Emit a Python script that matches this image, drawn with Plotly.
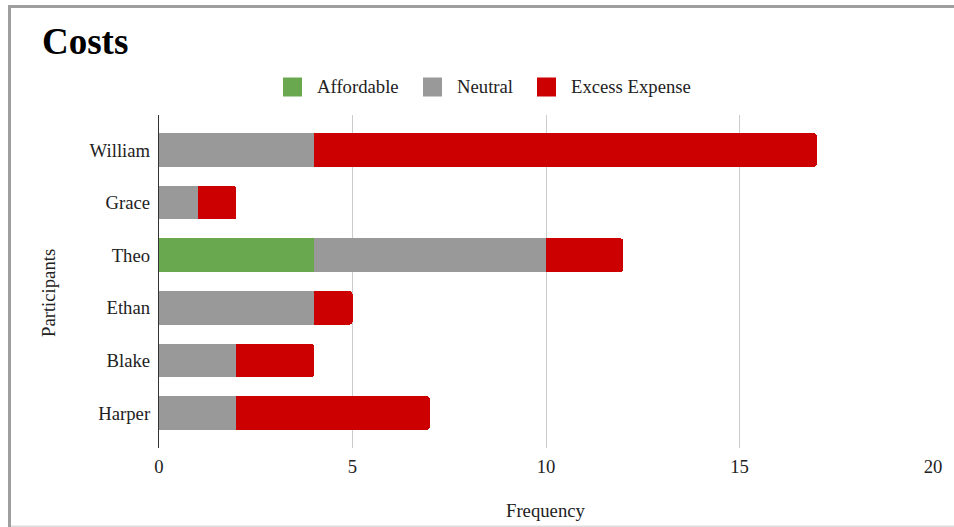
import plotly.graph_objects as go

participants = ["William", "Grace", "Theo", "Ethan", "Blake", "Harper"]
affordable = [0, 0, 4, 0, 0, 0]
neutral = [4, 1, 6, 4, 2, 2]
excess = [13, 1, 2, 1, 2, 5]
series_names = ["Affordable", "Neutral", "Excess Expense"]
series_colors = ["#6aa84f", "#999999", "#cc0000"]
x_ticks = [0, 5, 10, 15, 20]

W, H = 954, 527
L, R, T, B = 159, 933, 115, 448
FONT = "Liberation Serif, Times New Roman, serif"

def px(xp):
    return (xp - L) / (R - L)

def py(yp):
    return (B - yp) / (B - T)

# order bottom -> top
cats = participants[::-1]
fig = go.Figure()
for name, vals, col in zip(series_names, [affordable, neutral, excess], series_colors):
    fig.add_trace(go.Bar(
        y=cats, x=vals[::-1], name=name, orientation="h",
        marker=dict(color=col, line=dict(width=0)),
    ))

annotations = [
    dict(text="<b>Costs</b>", xref="paper", yref="paper", x=px(40), y=py(42),
         xanchor="left", yanchor="middle", showarrow=False,
         font=dict(family=FONT, size=37, color="#000000")),
    dict(text="Frequency", xref="paper", yref="paper", x=px(546), y=py(510),
         xanchor="center", yanchor="middle", showarrow=False,
         font=dict(family=FONT, size=18.7, color="#222222")),
    dict(text="Participants", xref="paper", yref="paper", x=px(48), y=py(293),
         xanchor="center", yanchor="middle", showarrow=False, textangle=-90,
         font=dict(family=FONT, size=18.7, color="#222222")),
]
shapes = [
    dict(type="rect", xref="paper", yref="paper", x0=px(8), x1=px(960), y0=py(5), y1=py(8),
         fillcolor="#9e9e9e", line=dict(width=0), layer="above"),
    dict(type="rect", xref="paper", yref="paper", x0=px(8), x1=px(11), y0=py(5), y1=py(530),
         fillcolor="#9e9e9e", line=dict(width=0), layer="above"),
    dict(type="rect", xref="paper", yref="paper", x0=px(11), x1=px(960), y0=py(525.5), y1=py(527),
         fillcolor="#dddddd", line=dict(width=0), layer="above"),
]

# custom legend (layout positions only)
legend_sq_x = [283, 423, 537]
legend_txt_x = [315, 455, 569]
for name, col, sx, tx in zip(series_names, series_colors, legend_sq_x, legend_txt_x):
    shapes.append(dict(type="rect", xref="paper", yref="paper",
                       x0=px(sx), x1=px(sx + 19), y0=py(96.5), y1=py(77.5),
                       fillcolor=col, line=dict(width=0), layer="above"))
    annotations.append(dict(text=name, xref="paper", yref="paper", x=px(tx), y=py(87),
                            xanchor="left", yanchor="middle", showarrow=False,
                            font=dict(family=FONT, size=18.7, color="#222222")))

fig.update_layout(
    width=W, height=H,
    margin=dict(l=L, r=W - R, t=T, b=H - B),
    barmode="stack",
    bargap=0.365,
    barcornerradius=3,
    plot_bgcolor="white", paper_bgcolor="white",
    font=dict(family=FONT, size=18.7, color="#222222"),
    showlegend=False,
    xaxis=dict(
        range=[0, 20], tickvals=x_ticks, ticktext=[str(v) for v in x_ticks],
        showgrid=True, gridcolor="#cccccc", gridwidth=1,
        zeroline=False, showline=False,
        ticks="outside", ticklen=2, tickcolor="rgba(0,0,0,0)",
        tickfont=dict(family=FONT, size=18.7, color="#222222"),
        fixedrange=True,
    ),
    yaxis=dict(
        range=[-0.665, 5.665], categoryorder="array", categoryarray=cats,
        showgrid=False, zeroline=False,
        showline=True, linecolor="#333333", linewidth=1.3,
        ticks="outside", ticklen=4, tickcolor="rgba(0,0,0,0)",
        tickfont=dict(family=FONT, size=18.7, color="#222222"),
        fixedrange=True,
    ),
    annotations=annotations,
    shapes=shapes,
)

fig.write_html("out.html")
